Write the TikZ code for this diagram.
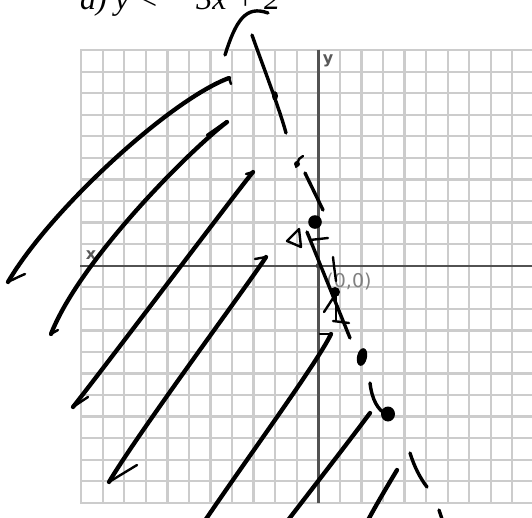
\documentclass[tikz,border=0pt]{standalone}
\usepackage{fontspec}
\setmainfont{Liberation Serif}
\newfontfamily\labelfont{DejaVu Sans}
\begin{document}
\begin{tikzpicture}[x=1pt,y=-1pt,
  gridline/.style={draw=gray!40, line width=2.3pt},
  axisline/.style={draw=black!68, line width=2.4pt},
  hatch/.style={draw=black, line width=4.3pt, line cap=round, line join=round},
  hookline/.style={draw=black, line width=2.4pt, line cap=round, line join=round},
  bound/.style={draw=black, line width=3.4pt, line cap=round, line join=round},
  thinbound/.style={draw=black, line width=2.4pt, line cap=round, line join=round},
  blob/.style={fill=black},
  axlabel/.style={text=black!65, font=\labelfont\bfseries\fontsize{16}{16}\selectfont, inner sep=0pt},
  originlabel/.style={text=black!50, font=\labelfont\fontsize{19}{19}\selectfont, inner sep=0pt},
  titlestyle/.style={font=\fontsize{32}{34}\selectfont\itshape, inner sep=0pt, anchor=base west}]
\useasboundingbox (0,0) rectangle (532,517);
\begin{scope}
\clip (0,0) rectangle (532,517);
% grid
\foreach \i in {-11,...,10}
  \draw[gridline] ({318.3+\i*21.56},49.7) -- ({318.3+\i*21.56},502.9);
\foreach \j in {-10,...,11}
  \draw[gridline] (80.4,{265.7+\j*21.56}) -- (540,{265.7+\j*21.56});
% axes
\draw[axisline] (80.4,265.7) -- (540,265.7);
\draw[axisline] (318.3,49.7) -- (318.3,502.9);
\fill[black!75] (318.3,265.7) circle[radius=2.6pt];
\node[axlabel] (xlab) at (91,255) {x};
\node[axlabel] (ylab) at (328,61) {y};
\node[originlabel] (olab) at (349,282) {(0,0)};
% title (cut at the top, as in the reference)
\node[titlestyle] (title) at (80,9) {a) y < − 3x + 2};

% hatching strokes
\draw[hookline] (231,84) -- (229,78);
\draw[hatch] (229,78) .. controls (170,100) and (50,210) .. (8,282);
\draw[hookline] (8,282) .. controls (12,280) and (18,277) .. (25,274);
\draw[hookline] (207,135) -- (227,121);
\draw[hatch] (227,122) .. controls (190,150) and (80,260) .. (51,334);
\draw[hookline] (51,334) -- (58,330);
\draw[hookline] (246,174) -- (253,172);
\draw[hatch] (253,172) .. controls (238,190) and (110,360) .. (73,407);
\draw[hookline] (73,407) -- (88,397);
\draw[hookline] (255,259) -- (266,257);
\draw[hatch] (266,257) .. controls (250,282) and (140,430) .. (109,482);
\draw[hookline] (109,482) -- (137,465);
\draw[hookline] (320,334) -- (331,334);
\draw[hatch] (331,334) .. controls (318,362) and (240,468) .. (200,528);
\draw[hatch] (370,413) .. controls (350,440) and (305,498) .. (282,528);
\draw[hatch] (397,470) .. controls (385,490) and (372,512) .. (365,526);

% dashed boundary, drawn by hand
\draw[bound] (225,55) .. controls (236,20) and (246,5) .. (268,13);
\draw[bound] (252,35) .. controls (260,58) and (280,110) .. (286,133);
\fill[blob] (275,96) ellipse[x radius=3pt, y radius=4.8pt];
\fill[blob] (297,164) circle[radius=3pt];
\draw[thinbound] (296,167) -- (299,159) -- (303,156);
\draw[bound] (305,173) -- (323,210);
\fill[blob] (315,222) ellipse[x radius=6.8pt, y radius=6.8pt];
\draw[thinbound] (299,229) -- (287,241) -- (301,247) -- cycle;
\draw[thinbound] (310,240) -- (328,238);
\draw[bound] (307,232) -- (350,338);
\draw[thinbound] (333,257) .. controls (334,266) .. (336,281);
\fill[blob] (335,292) circle[radius=5pt];
\draw[thinbound] (324,312) -- (337,292);
\draw[thinbound] (336,296) -- (336,321);
\draw[thinbound] (333,321) -- (349,323);
\fill[blob, rotate around={-12:(362,357)}] (362,357) ellipse[x radius=5pt, y radius=9pt];
\draw[bound] (370,383) .. controls (372,400) and (378,410) .. (386,414);
\fill[blob] (388,414) ellipse[x radius=7pt, y radius=7.5pt];
\draw[bound] (410,453) .. controls (414,466) and (420,478) .. (427,487);
\draw[bound] (439,510) -- (442,519);
\end{scope}
\end{tikzpicture}
\end{document}
